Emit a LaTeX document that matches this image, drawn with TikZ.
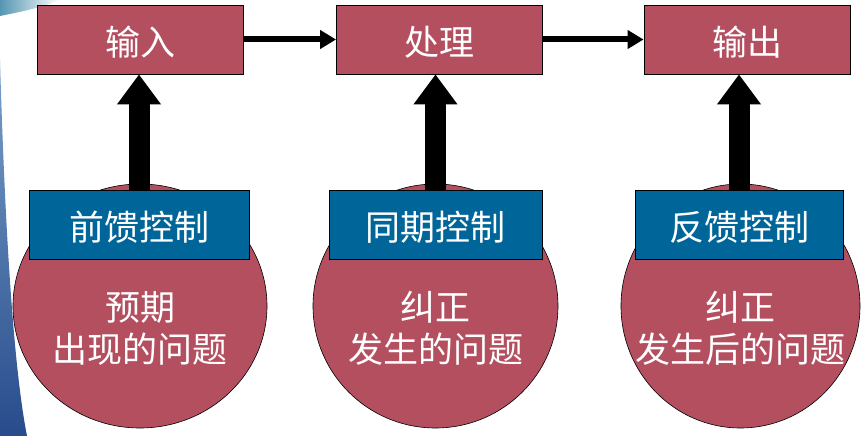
\documentclass[tikz,border=0pt]{standalone}
\usepackage{fontspec}
\newfontfamily\cjk{Noto Sans CJK SC}
\usetikzlibrary{arrows.meta}
\definecolor{boxred}{RGB}{180,79,96}
\definecolor{boxblue}{RGB}{0,102,153}
\definecolor{edgeblue}{RGB}{40,75,140}
\definecolor{edgelight}{RGB}{120,160,200}
\begin{document}
\begin{tikzpicture}[x=1pt,y=-1pt,
  topbox/.style={draw=black, line width=0.8pt, fill=boxred, minimum width=206pt, minimum height=69pt, inner sep=0pt, text height=36pt, text depth=4pt, text=white, font=\cjk\fontsize{35}{40}\selectfont},
  ctrlbox/.style={draw=black, line width=0.6pt, fill=boxblue, minimum width=216pt, minimum height=69pt, inner sep=0pt, text height=36pt, text depth=4pt, text=white, font=\cjk\fontsize{35}{40}\selectfont},
  problem/.style={draw=black, line width=0.6pt, fill=boxred},
  probtext/.style={text=white, align=center, font=\cjk\fontsize{35}{42}\selectfont},
  flow/.style={line width=6pt, -{Triangle[length=16pt,width=18pt]}},
  bigup/.style={line width=21pt, -{Triangle[length=30pt,width=42pt]}}
]
\useasboundingbox (0,0) rectangle (868,436);
\fill[white] (0,0) rectangle (868,436);
% left edge decoration
\shade[top color=edgelight, bottom color=edgeblue]
  (0,60) .. controls (4,200) and (12,360) .. (27,436) -- (0,436) -- cycle;
\shade[left color=edgelight!70!teal, right color=white]
  (0,0) -- (60,0) .. controls (40,8) and (20,12) .. (0,16) -- cycle;

% circles
\draw[problem] (140,306) ellipse (127 and 122);
\draw[problem] (435.5,306) ellipse (122.5 and 122);
\draw[problem] (740.5,306) ellipse (119.5 and 122);

% top boxes
\node[topbox] (in) at (140,39.5) {输入};
\node[topbox] (proc) at (439.5,39.5) {处理};
\node[topbox] (out) at (747,39.5) {输出};

% control boxes
\node[ctrlbox, minimum width=220pt] (ff) at (139,224.5) {前馈控制};
\node[ctrlbox, minimum width=213pt] (cc) at (435.5,224.5) {同期控制};
\node[ctrlbox, minimum width=208pt] (fb) at (739,224.5) {反馈控制};

% circle texts
\node[probtext] (p1) at (140,328) {预期\\出现的问题};
\node[probtext] (p2) at (435.5,328) {纠正\\发生的问题};
\node[probtext] (p3) at (740.5,328) {纠正\\发生后的问题};

% arrows
\draw[flow] (in.east) -- (proc.west);
\draw[flow] (proc.east) -- (out.west);
\draw[bigup] (ff.north) -- (ff.north |- in.south);
\draw[bigup] (cc.north) -- (cc.north |- proc.south);
\draw[bigup] (fb.north) -- (fb.north |- out.south);
\end{tikzpicture}
\end{document}
